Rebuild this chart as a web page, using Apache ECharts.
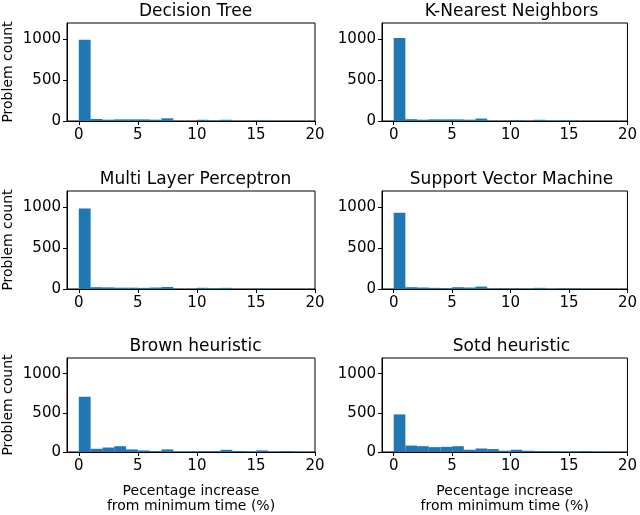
<!DOCTYPE html>
<html>
<head>
<meta charset="utf-8">
<script src="https://cdn.jsdelivr.net/npm/echarts@6/dist/echarts.min.js"></script>
<style>html,body{margin:0;padding:0;background:#fff}#c{width:640px;height:515px}</style>
</head>
<body>
<div id="c"></div>
<script>
const titles = ["Decision Tree", "K-Nearest Neighbors", "Multi Layer Perceptron", "Support Vector Machine", "Brown heuristic", "Sotd heuristic"];
const binStarts = [0,1,2,3,4,5,6,7,8,9,10,11,12,13,14,15,16,17,18,19];
const decisionTree = [995,25,16,20,20,20,16,33,2,2,15,5,15,3,3,5,2,2,2,1];
const kNearest = [1015,22,16,20,20,20,16,30,2,2,10,4,15,3,5,5,1,1,1,1];
const multiLayer = [985,22,20,16,16,14,18,25,2,2,15,8,14,2,2,5,1,1,1,1];
const supportVector = [935,22,18,14,10,22,18,30,5,8,8,3,14,2,8,8,1,1,1,1];
const brown = [705,41,57,74,33,20,12,33,5,5,10,10,28,12,5,20,5,10,5,0];
const sotd = [480,82,74,62,66,74,29,45,37,16,29,16,12,8,5,5,10,5,5,0];
const xTicks = [0,5,10,15,20];
const yTicks = [0,500,1000];
const xLabelText = "Pecentage increase\nfrom minimum time (%)";
const yLabelText = "Problem count";

const allCounts = [decisionTree, kNearest, multiLayer, supportVector, brown, sotd];
const lefts = [66, 382];
const tops = [23, 191, 358];
const W = 249, H = 98;
const font = "DejaVu Sans";

const grids = [], xAxes = [], yAxes = [], series = [], titleOpts = [];
function renderItem(params, api) {
  const x0 = api.value(0), x1 = api.value(1), v = api.value(2);
  const p0 = api.coord([x0, 0]), p1 = api.coord([x1, v]);
  return {type: 'rect', shape: {x: p0[0], y: p1[1], width: p1[0] - p0[0], height: p0[1] - p1[1]}, style: {fill: '#1f77b4'}};
}
allCounts.forEach((counts, i) => {
  const col = i % 2, row = Math.floor(i / 2);
  grids.push({left: lefts[col], top: tops[row], width: W, height: H, show: true, borderColor: '#000', borderWidth: 1, backgroundColor: 'transparent', containLabel: false});
  xAxes.push({
    type: 'value', gridIndex: i, min: -1, max: 20,
    axisLine: {show: true, onZero: false, lineStyle: {color: '#000', width: 1}},
    axisTick: {show: true, length: 4, customValues: xTicks, lineStyle: {color: '#000'}},
    axisLabel: {customValues: xTicks, color: '#000', fontSize: 15, fontFamily: font, margin: 7, formatter: v => String(v)},
    splitLine: {show: false},
    name: row === 2 ? xLabelText : '', nameLocation: 'middle', nameGap: 32,
    nameTextStyle: {color: '#000', fontSize: 14, fontFamily: font, lineHeight: 15, verticalAlign: 'top'}
  });
  yAxes.push({
    type: 'value', gridIndex: i, min: 0, max: 1200,
    axisLine: {show: true, onZero: false, lineStyle: {color: '#000', width: 1}},
    axisTick: {show: true, length: 4, customValues: yTicks, lineStyle: {color: '#000'}},
    axisLabel: {customValues: yTicks, color: '#000', fontSize: 15, fontFamily: font, margin: 6, formatter: v => String(v)},
    splitLine: {show: false},
    name: col === 0 ? yLabelText : '', nameLocation: 'middle', nameGap: 52,
    nameTextStyle: {color: '#000', fontSize: 14, fontFamily: font}
  });
  series.push({
    type: 'custom', xAxisIndex: i, yAxisIndex: i, renderItem: renderItem,
    encode: {x: [0, 1], y: 2},
    data: binStarts.map((b, k) => [b, b + 1, counts[k]]),
    silent: true
  });
  titleOpts.push({
    text: titles[i], left: lefts[col] + W / 2, top: tops[row] - 25, textAlign: 'center',
    textStyle: {color: '#000', fontSize: 17, fontWeight: 'normal', fontFamily: font}
  });
});

const chart = echarts.init(document.getElementById('c'), null, {renderer: 'canvas'});
chart.setOption({
  animation: false,
  title: titleOpts,
  grid: grids, xAxis: xAxes, yAxis: yAxes, series: series
});
</script>
</body>
</html>
